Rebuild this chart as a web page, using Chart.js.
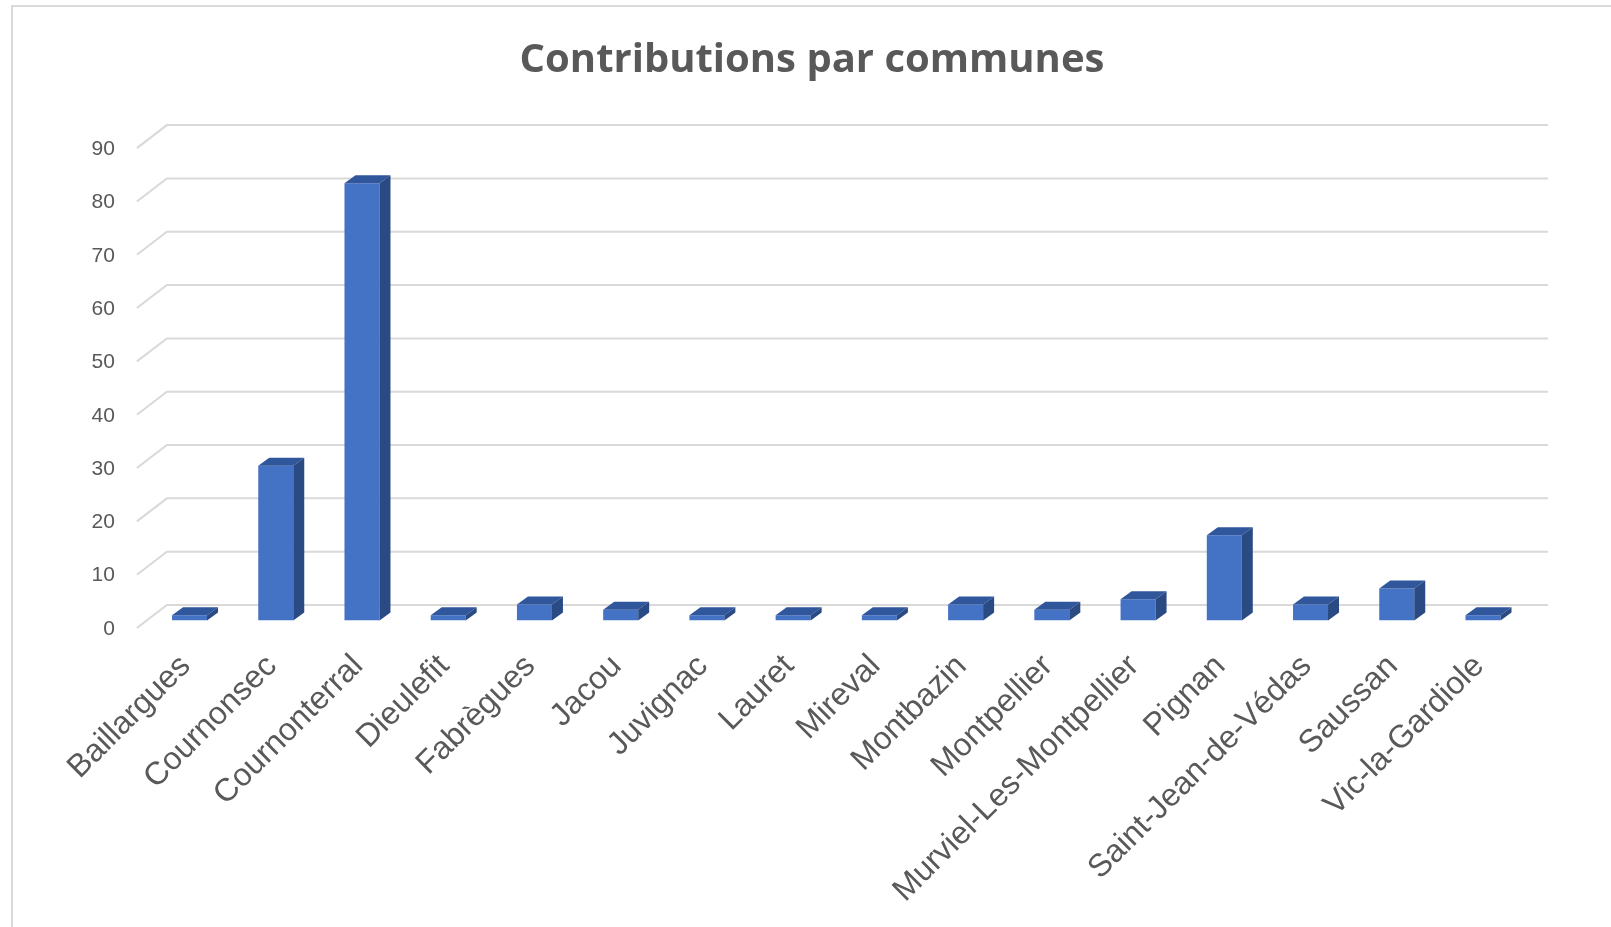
<!DOCTYPE html>
<html>
<head>
<meta charset="utf-8">
<script src="https://cdn.jsdelivr.net/npm/chart.js@4.4.1/dist/chart.umd.min.js"></script>
<style>
  html, body { margin: 0; padding: 0; background: #ffffff; }
  #wrap { position: relative; width: 1611px; height: 927px; }
</style>
</head>
<body>
<div id="wrap"><canvas id="c" width="1611" height="927"></canvas></div>
<script>
const communes = ["Baillargues", "Cournonsec", "Cournonterral", "Dieulefit", "Fabrègues", "Jacou", "Juvignac", "Lauret", "Mireval", "Montbazin", "Montpellier", "Murviel-Les-Montpellier", "Pignan", "Saint-Jean-de-Védas", "Saussan", "Vic-la-Gardiole"];
const contributions = [1, 29, 82, 1, 3, 2, 1, 1, 1, 3, 2, 4, 16, 3, 6, 1];
const yTicks = [0, 10, 20, 30, 40, 50, 60, 70, 80, 90];
const chartTitle = "Contributions par communes";

const FRONT = '#4472C4', TOP = '#30569C', SIDE = '#2A4A84', GRID = '#D9D9D9', TEXT = '#595959';
const DEPTH_X = 11, DEPTH_Y = 8;          // bar depth
const WALL_DX = 20.5, WALL_DY = 15.5;     // back wall offset from bar front
const FRONT_DX = -9.5, FRONT_DY = 7.5;    // front plane offset

const frame = {
  id: 'frame',
  beforeDraw(chart) {
    const ctx = chart.ctx;
    ctx.save();
    ctx.fillStyle = '#ffffff';
    ctx.fillRect(0, 0, chart.width, chart.height);
    ctx.strokeStyle = GRID;
    ctx.lineWidth = 2;
    ctx.beginPath();
    ctx.moveTo(12, chart.height);
    ctx.lineTo(12, 6);
    ctx.lineTo(chart.width, 6);
    ctx.stroke();
    ctx.restore();
  }
};

const wall = {
  id: 'wall',
  beforeDatasetsDraw(chart) {
    const ctx = chart.ctx, y = chart.scales.y, a = chart.chartArea;
    ctx.save();
    ctx.strokeStyle = GRID;
    ctx.lineWidth = 2;
    y.ticks.forEach(t => {
      const py = y.getPixelForValue(t.value);
      ctx.beginPath();
      ctx.moveTo(a.left + FRONT_DX, py + FRONT_DY);
      ctx.lineTo(a.left + WALL_DX, py - WALL_DY);
      ctx.lineTo(a.right + 22, py - WALL_DY);
      ctx.stroke();
    });
    ctx.restore();
  }
};

const faces = {
  id: 'faces',
  afterDatasetsDraw(chart) {
    const ctx = chart.ctx;
    const meta = chart.getDatasetMeta(0);
    ctx.save();
    meta.data.forEach(bar => {
      const p = bar.getProps(['x', 'y', 'base', 'width'], true);
      const x0 = p.x - p.width / 2, x1 = p.x + p.width / 2;
      const yt = p.y, yb = p.base;
      ctx.fillStyle = TOP;
      ctx.beginPath();
      ctx.moveTo(x0, yt);
      ctx.lineTo(x0 + DEPTH_X, yt - DEPTH_Y);
      ctx.lineTo(x1 + DEPTH_X, yt - DEPTH_Y);
      ctx.lineTo(x1, yt);
      ctx.closePath();
      ctx.fill();
      ctx.fillStyle = SIDE;
      ctx.beginPath();
      ctx.moveTo(x1, yt);
      ctx.lineTo(x1 + DEPTH_X, yt - DEPTH_Y);
      ctx.lineTo(x1 + DEPTH_X, yb - DEPTH_Y);
      ctx.lineTo(x1, yb);
      ctx.closePath();
      ctx.fill();
    });
    ctx.restore();
  }
};

new Chart(document.getElementById('c'), {
  type: 'bar',
  data: {
    labels: communes,
    datasets: [{
      label: 'Contributions',
      data: contributions,
      backgroundColor: FRONT,
      borderWidth: 0,
      categoryPercentage: 1,
      barPercentage: 35 / 86.23
    }]
  },
  options: {
    responsive: false,
    animation: false,
    devicePixelRatio: 1,
    layout: { padding: { left: 13, right: 0, top: 0, bottom: 0 } },
    plugins: {
      legend: { display: false },
      tooltip: { enabled: false },
      title: {
        display: true,
        text: chartTitle,
        color: TEXT,
        font: { family: 'Open Sans', size: 40, weight: 'bold', lineHeight: 1.2 },
        padding: { top: 37, bottom: 55.6 }
      }
    },
    scales: {
      x: {
        grid: { display: false, drawTicks: false },
        border: { display: false },
        ticks: {
          autoSkip: false,
          minRotation: 45,
          maxRotation: 45,
          color: TEXT,
          padding: 27,
          labelOffset: -4,
          font: { family: 'Liberation Sans', size: 32 }
        },
        afterFit(s) { s.height = 306.5; }
      },
      y: {
        min: 0,
        max: 90,
        afterBuildTicks(s) { s.ticks = yTicks.map(v => ({ value: v })); },
        grid: { display: false, drawTicks: false },
        border: { display: false },
        ticks: {
          color: TEXT,
          padding: 31.5,
          labelOffset: 8.5,
          font: { family: 'Liberation Sans', size: 21 }
        },
        afterFit(s) { s.width = 133.4; }
      },
      yRight: {
        position: 'right',
        min: 0,
        max: 1,
        grid: { display: false, drawTicks: false },
        border: { display: false },
        ticks: { display: false },
        afterFit(s) { s.width = 84.9; }
      }
    }
  },
  plugins: [frame, wall, faces]
});
</script>
</body>
</html>
